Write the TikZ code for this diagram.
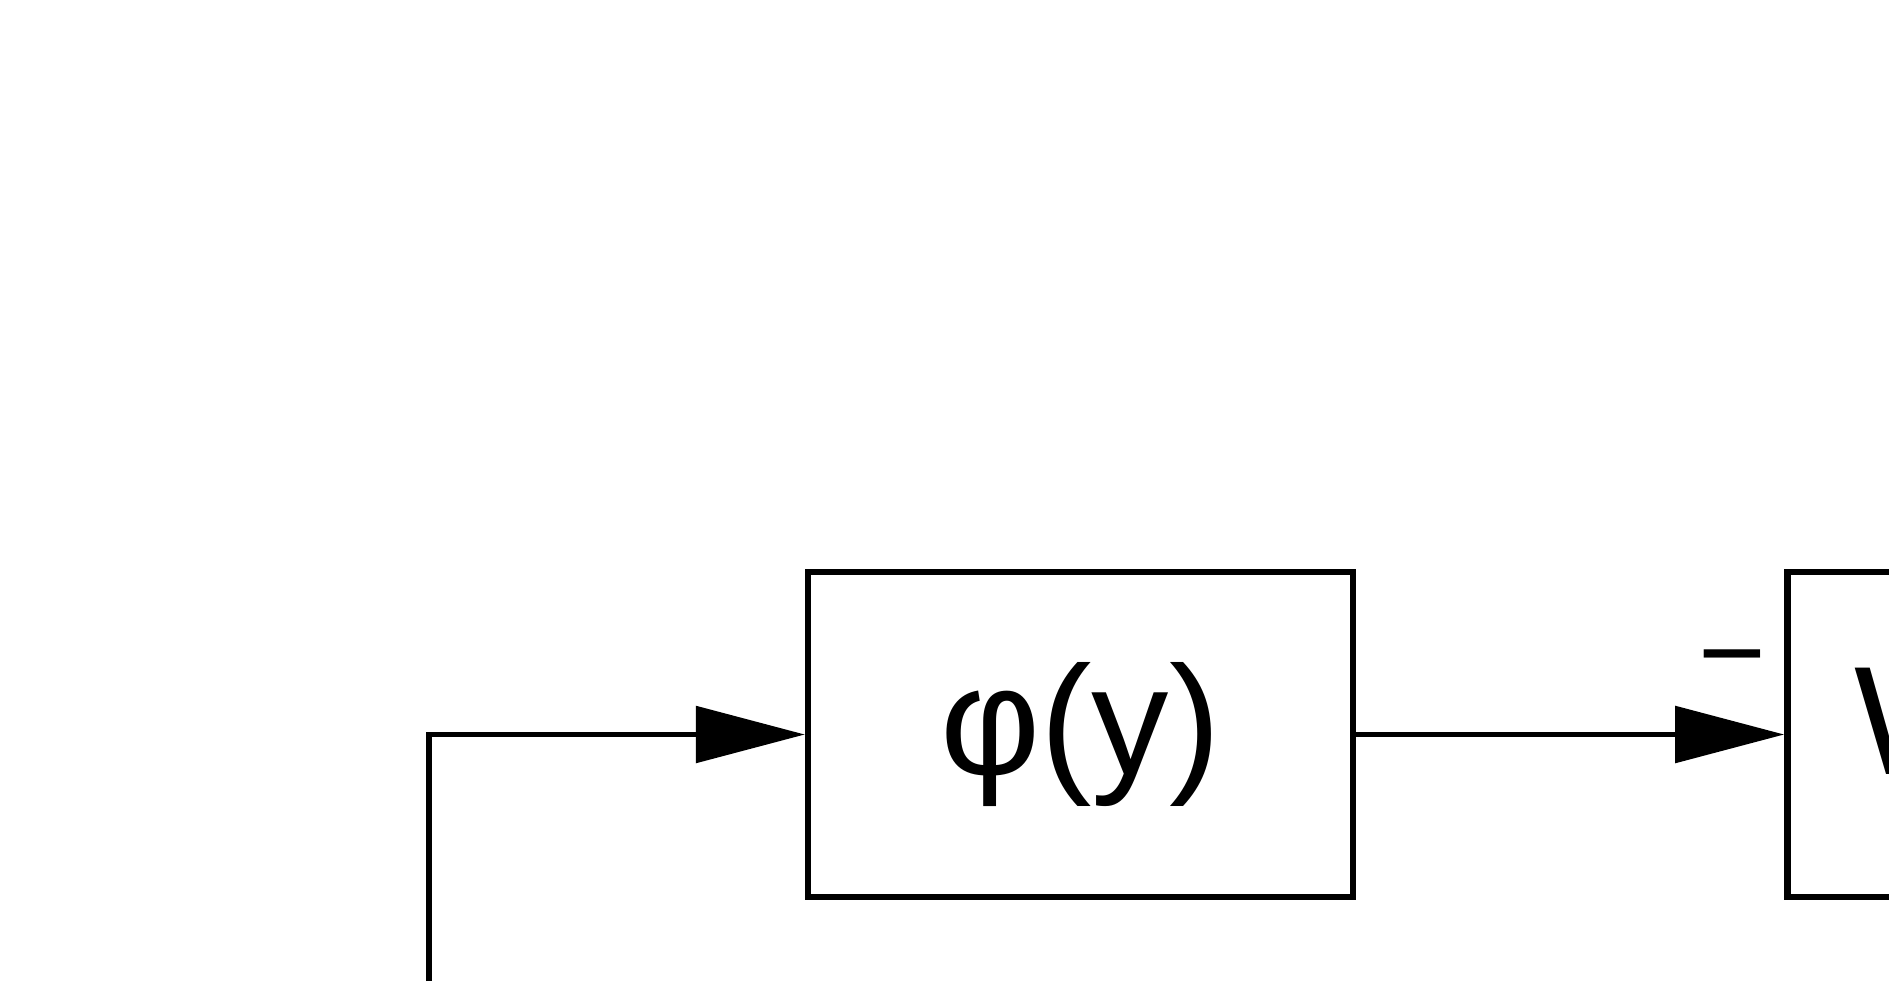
\documentclass[tikz,border=0pt]{standalone}
\usepackage{fontspec}
\setmainfont{Liberation Sans}
\usepackage{tikz}
\usetikzlibrary{arrows.meta}
\usetikzlibrary{positioning}
\tikzstyle{block}=[draw,line width=1.8pt,minimum height=3.25cm,inner sep=0pt,text height=32pt,text depth=9pt,font=\fontsize{44}{52}\selectfont]
\tikzstyle{sign}=[inner sep=0pt,font=\fontsize{33}{40}\selectfont]

\begin{document}
\begin{tikzpicture}[
  line width=1.6pt,
  feed/.style={-{Triangle[length=1.09cm,width=0.56cm]}},
]
\useasboundingbox (0,0) rectangle (18.89,9.81);
\node[block,minimum width=5.45cm] (phi) at (10.805,2.465) {φ(y)};
\node[block,minimum width=2.8cm,right=4.28cm of phi] (w) {W};
\node[sign] (minus) at ([xshift=-0.52cm,yshift=0.63cm]w.west) {−};
\coordinate (in) at (4.29,0);

\draw[feed] (in) |- (phi);
\draw[feed] (phi) -- (w);
\end{tikzpicture}
\end{document}
